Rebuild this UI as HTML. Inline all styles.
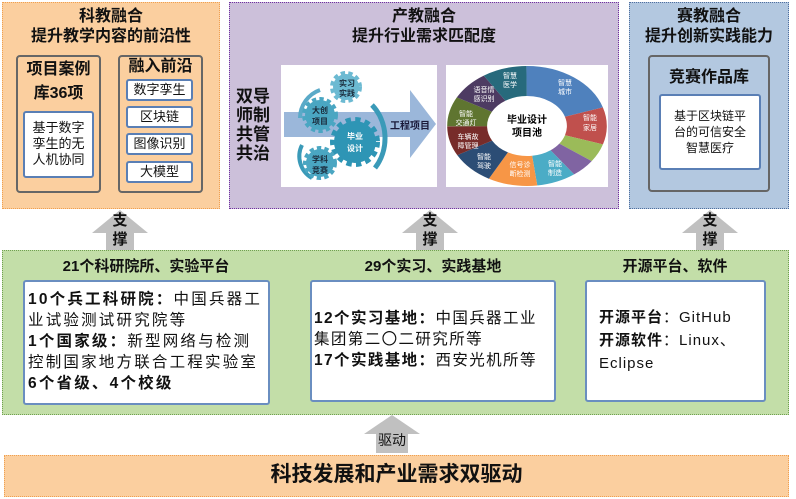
<!DOCTYPE html>
<html><head><meta charset="utf-8"><style>
*{margin:0;padding:0;box-sizing:border-box}
body{width:796px;height:499px;background:#fff;position:relative;overflow:hidden;font-family:"Liberation Sans","Noto Sans CJK SC",sans-serif;color:#111}
.a{position:absolute}
.c{text-align:center}
.b{font-weight:bold}
.box{position:absolute;border:2px solid #666;border-radius:4px}
.wb{position:absolute;background:#fff;border:2px solid #5a7fb5;border-radius:3px}
.nw{white-space:nowrap}
</style></head><body>

<div class="a" style="left:2px;top:2px;width:218px;height:207px;background:#fbcf9f;border:1.5px dotted #f0a050"></div>
<div class="a c b" style="left:2px;top:7px;width:218px;font-size:16px;line-height:20px">科教融合<br>提升教学内容的前沿性</div>
<div class="box" style="left:16px;top:55px;width:85px;height:138px;background:#fbcf9f"></div>
<div class="a c b" style="left:16px;top:58px;width:85px;font-size:16px;line-height:24px">项目案例<br>库36项</div>
<div class="wb" style="left:23px;top:111px;width:71px;height:67px"></div>
<div class="a c" style="left:23px;top:120px;width:71px;font-size:13px;line-height:16px">基于数字<br>孪生的无<br>人机协同</div>
<div class="box" style="left:118px;top:55px;width:85px;height:138px;background:#fbcf9f"></div>
<div class="a c b" style="left:118px;top:56px;width:85px;font-size:16px;line-height:22px">融入前沿</div>
<div class="wb c" style="left:126px;top:79px;width:67px;height:22px;font-size:13px;line-height:18px">数字孪生</div>
<div class="wb c" style="left:126px;top:106px;width:67px;height:22px;font-size:13px;line-height:18px">区块链</div>
<div class="wb c" style="left:126px;top:133px;width:67px;height:22px;font-size:13px;line-height:18px">图像识别</div>
<div class="wb c" style="left:126px;top:161px;width:67px;height:22px;font-size:13px;line-height:18px">大模型</div>

<div class="a" style="left:229px;top:2px;width:390px;height:207px;background:#ccc0da;border:1.5px dotted #7030a0"></div>
<div class="a c b" style="left:229px;top:7px;width:390px;font-size:16px;line-height:20px">产教融合<br>提升行业需求匹配度</div>
<div class="a c b" style="left:233px;top:87px;width:40px;font-size:17px;line-height:19px">双导<br>师制<br>共管<br>共治</div>

<svg class="a" style="left:0;top:0" width="796" height="499">
 <rect x="281" y="65" width="156" height="122" fill="#fff"/>
 <polygon points="284,112 410,112 410,90 436,124 410,158 410,137 284,137" fill="#9bb7da"/>
 <text x="410" y="129" font-size="10" font-weight="bold" text-anchor="middle" fill="#1a1a3a" font-family="Liberation Sans,Noto Sans CJK SC,sans-serif">工程项目</text>
 <path d="M300,118 A30,30 0 0 1 320,90" stroke="#5aaac8" stroke-width="4" fill="none"/>
 <path d="M372,105 A40,45 0 0 1 375,168" stroke="#3a9ab8" stroke-width="5" fill="none"/>
 <path d="M302,145 A25,25 0 0 0 312,178" stroke="#3a9ab8" stroke-width="4" fill="none"/>
 <circle cx="320" cy="115" r="15" fill="#4aa6c2" stroke="#4aa6c2" stroke-width="6" stroke-dasharray="4 3"/>
 <circle cx="346" cy="87" r="13" fill="#6cbad2" stroke="#6cbad2" stroke-width="6" stroke-dasharray="4 3"/>
 <circle cx="355" cy="142" r="21" fill="#2e95b5" stroke="#2e95b5" stroke-width="8" stroke-dasharray="5 4"/>
 <circle cx="320" cy="163" r="14" fill="#4aa6c2" stroke="#4aa6c2" stroke-width="6" stroke-dasharray="4 3"/>
 <g font-size="8" font-weight="bold" text-anchor="middle" fill="#1a2a3a" font-family="Liberation Sans,Noto Sans CJK SC,sans-serif">
  <text x="320" y="113">大创</text><text x="320" y="124">项目</text>
  <text x="347" y="86">实习</text><text x="347" y="96">实践</text>
  <text x="355" y="139" fill="#fff">毕业</text><text x="355" y="151" fill="#fff">设计</text>
  <text x="320" y="162">学科</text><text x="320" y="173">竞赛</text>
 </g>
 <rect x="446" y="65" width="162" height="122" fill="#fff"/>
 <g transform="translate(527,126) scale(1.33,1)">
  <g transform="rotate(-90)">
  <circle r="45" fill="none" stroke-width="30" pathLength="100" stroke="#4f81bd" stroke-dasharray="20 80" stroke-dashoffset="0"/>
  <circle r="45" fill="none" stroke-width="30" pathLength="100" stroke="#c0504d" stroke-dasharray="10 90" stroke-dashoffset="-20"/>
  <circle r="45" fill="none" stroke-width="30" pathLength="100" stroke="#9bbb59" stroke-dasharray="5 95" stroke-dashoffset="-30"/>
  <circle r="45" fill="none" stroke-width="30" pathLength="100" stroke="#8064a2" stroke-dasharray="5 95" stroke-dashoffset="-35"/>
  <circle r="45" fill="none" stroke-width="30" pathLength="100" stroke="#4bacc6" stroke-dasharray="8 92" stroke-dashoffset="-40"/>
  <circle r="45" fill="none" stroke-width="30" pathLength="100" stroke="#f79646" stroke-dasharray="10 90" stroke-dashoffset="-48"/>
  <circle r="45" fill="none" stroke-width="30" pathLength="100" stroke="#2c4d75" stroke-dasharray="9 91" stroke-dashoffset="-58"/>
  <circle r="45" fill="none" stroke-width="30" pathLength="100" stroke="#772c2a" stroke-dasharray="8 92" stroke-dashoffset="-67"/>
  <circle r="45" fill="none" stroke-width="30" pathLength="100" stroke="#5f7530" stroke-dasharray="8 92" stroke-dashoffset="-75"/>
  <circle r="45" fill="none" stroke-width="30" pathLength="100" stroke="#4d3b62" stroke-dasharray="8 92" stroke-dashoffset="-83"/>
  <circle r="45" fill="none" stroke-width="30" pathLength="100" stroke="#276a7c" stroke-dasharray="9 91" stroke-dashoffset="-91"/>
  </g>
 </g>
 <g font-size="7" text-anchor="middle" fill="#fff" font-family="Liberation Sans,Noto Sans CJK SC,sans-serif">
  <text x="565" y="85">智慧</text><text x="565" y="94">城市</text>
  <text x="590" y="120">智能</text><text x="590" y="130">家居</text>
  <text x="510" y="78">智慧</text><text x="510" y="87">医学</text>
  <text x="484" y="92">语音情</text><text x="484" y="101">感识别</text>
  <text x="466" y="116">智能</text><text x="466" y="125">交通灯</text>
  <text x="468" y="139">车辆故</text><text x="468" y="148">障管理</text>
  <text x="484" y="159">智能</text><text x="484" y="168">驾驶</text>
  <text x="520" y="167">信号诊</text><text x="520" y="176">断检测</text>
  <text x="555" y="166">智能</text><text x="555" y="175">制造</text>
 </g>
 <text x="527" y="123" font-size="10" font-weight="bold" text-anchor="middle" font-family="Liberation Sans,Noto Sans CJK SC,sans-serif">毕业设计</text>
 <text x="527" y="136" font-size="10" font-weight="bold" text-anchor="middle" font-family="Liberation Sans,Noto Sans CJK SC,sans-serif">项目池</text>

 <g fill="#c0c0c0">
  <polygon points="92,233 120,210 148,233 134,233 134,250 106,250 106,233"/>
  <polygon points="402,233 430,210 458,233 444,233 444,250 416,250 416,233"/>
  <polygon points="682,233 710,210 738,233 724,233 724,250 696,250 696,233"/>
  <polygon points="364,434 392,415 420,434 408,434 408,453 376,453 376,434"/>
 </g>
</svg>
<div class="a c b" style="left:105px;top:211px;width:30px;font-size:15px;line-height:19px">支<br>撑</div>
<div class="a c b" style="left:415px;top:211px;width:30px;font-size:15px;line-height:19px">支<br>撑</div>
<div class="a c b" style="left:695px;top:211px;width:30px;font-size:15px;line-height:19px">支<br>撑</div>
<div class="a c" style="left:372px;top:430px;width:40px;font-size:14px">驱动</div>

<div class="a" style="left:629px;top:2px;width:160px;height:207px;background:#b3c8e0;border:1.5px dotted #4f6f9f"></div>
<div class="a c b" style="left:629px;top:7px;width:160px;font-size:16px;line-height:20px">赛教融合<br>提升创新实践能力</div>
<div class="box" style="left:648px;top:55px;width:122px;height:137px;background:#b3c8e0"></div>
<div class="a c b" style="left:648px;top:63px;width:122px;font-size:16px">竞赛作品库</div>
<div class="wb" style="left:659px;top:94px;width:102px;height:76px"></div>
<div class="a c" style="left:659px;top:108px;width:102px;font-size:12px;line-height:16px">基于区块链平<br>台的可信安全<br>智慧医疗</div>

<div class="a" style="left:2px;top:250px;width:787px;height:165px;background:#c3dea8;border:1.5px dotted #70a050"></div>
<div class="a c b" style="left:23px;top:255px;width:246px;font-size:15px">21个科研院所、实验平台</div>
<div class="a c b" style="left:310px;top:255px;width:246px;font-size:15px">29个实习、实践基地</div>
<div class="a c b" style="left:585px;top:255px;width:180px;font-size:15px">开源平台、软件</div>
<div class="wb" style="left:23px;top:280px;width:247px;height:125px;border-color:#6a8ec0"></div>
<div class="a nw" style="left:28px;top:289px;font-size:15.5px;line-height:21px;letter-spacing:2.2px"><b>10个兵工科研院：</b>中国兵器工<br>业试验测试研究院等<br><b>1个国家级：</b>新型网络与检测<br>控制国家地方联合工程实验室<br><b>6个省级、4个校级</b></div>
<div class="wb" style="left:310px;top:280px;width:246px;height:122px;border-color:#6a8ec0"></div>
<div class="a nw" style="left:314px;top:308px;font-size:15.5px;line-height:21px;letter-spacing:1.4px"><b>12个实习基地：</b>中国兵器工业<br>集团第二〇二研究所等<br><b>17个实践基地：</b>西安光机所等</div>
<div class="wb" style="left:585px;top:280px;width:181px;height:122px;border-color:#6a8ec0"></div>
<div class="a nw" style="left:599px;top:306px;font-size:15px;line-height:23px;letter-spacing:1px"><b>开源平台</b>：GitHub<br><b>开源软件</b>：Linux、<br>Eclipse</div>

<div class="a c b" style="left:4px;top:455px;width:785px;height:42px;background:#fbcf9f;border:1.5px dotted #f0a050;font-size:21px;line-height:38px">科技发展和产业需求双驱动</div>
</body></html>
